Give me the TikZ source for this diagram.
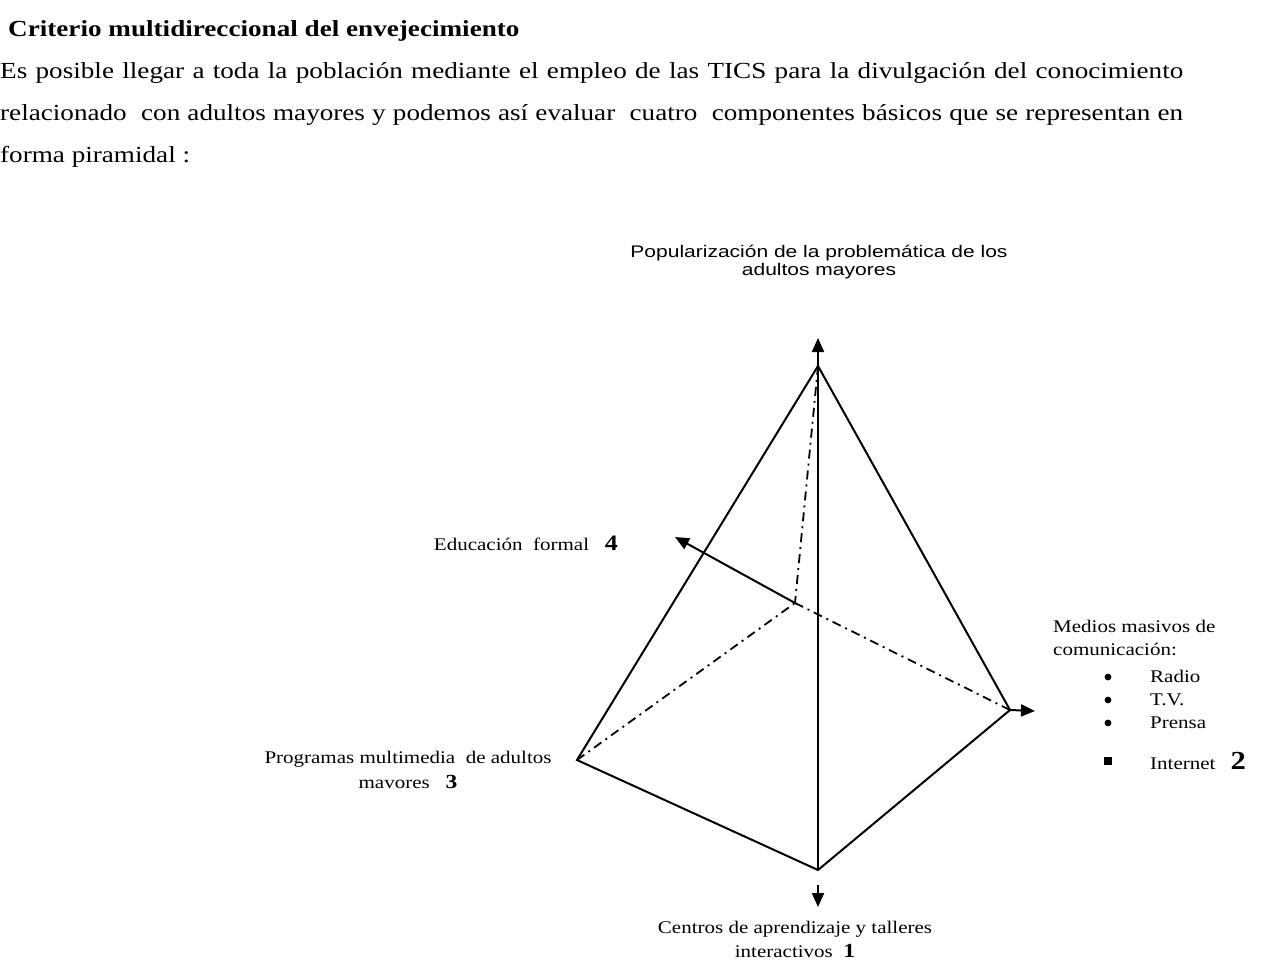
\documentclass[tikz,border=0pt]{standalone}
\usepackage{fontspec}
\setmainfont{Liberation Serif}[FakeStretch=1.18]
\newfontfamily\arialfont{Liberation Sans}[FakeStretch=1.25]
\usetikzlibrary{arrows.meta}

\newcommand{\fsize}[2]{\fontsize{#1}{#2}\selectfont}

\begin{document}
\begin{tikzpicture}[x=1pt,y=-1pt]
\useasboundingbox (0,0) rectangle (1263,966);

% heading and paragraph
\node[anchor=base west,inner sep=0,font=\fsize{23}{27}\bfseries] (title) at (8,37)
    {Criterio multidireccional del envejecimiento};
\node[anchor=base west,inner sep=0,text width=1183pt,align=justify,font=\fsize{23}{42}] (intro) at (0,78)
    {Es posible llegar a toda la población mediante el empleo de las TICS para la divulgación del conocimiento\linebreak
     relacionado\ \ con adultos mayores y podemos así evaluar\ \ cuatro\ \ componentes básicos que se representan en\linebreak
     forma piramidal :};

% corners of the pyramid
\coordinate (top) at (818,366);
\coordinate (left) at (577,760);
\coordinate (bottom) at (818,870);
\coordinate (right) at (1010,710);
\coordinate (back) at (795,603);

% free ends of the arrows
\coordinate (up) at (818,338);
\coordinate (east) at (1035,711);
\coordinate (west) at (675,537);
\coordinate (downstart) at (818,885);
\coordinate (downend) at (818,907);

\begin{scope}[every node/.style={inner sep=0,font=\fsize{17.8}{24}}]
    \node[anchor=base,align=center,font=\arialfont\fsize{16.8}{18}] (popular) at (819,275)
        {Popularización de la problemática de los\\adultos mayores};
    \node[anchor=base east] (educacion) at (618,550)
        {Educación\ \ formal\ \ \ \textbf{\fsize{22}{22}4}};
    \node[anchor=base,align=center,font=\fsize{17.8}{25}] (programas) at (408,788)
        {Programas multimedia\ \ de adultos\\mavores\ \ \ \textbf{\fsize{20}{20}3}};
    \node[anchor=base west,align=left,font=\fsize{17.8}{23}] (medios) at (1053,655)
        {Medios masivos de\\comunicación:};
    \foreach \medio/\yy [count=\i] in {Radio/682,T.V./705,Prensa/728} {
        \node[anchor=base west] (medio\i) at (1150,\yy) {\medio};
        \fill (1108,\yy-5) circle (3.4);
    }
    \node[anchor=base west] (internet) at (1150,769)
        {Internet\hspace{15pt}\textbf{\fsize{26}{26}2}};
    \fill (1104,757) rectangle (1112,765);
    \node[anchor=base,align=center] (centros) at (795,957)
        {Centros de aprendizaje y talleres\\interactivos\ \ \textbf{\fsize{20}{20}1}};
\end{scope}

% visible edges
\begin{scope}[line width=2pt,line join=miter]
    \draw (top) -- (left) -- (bottom) -- (right) -- cycle;
    \draw (top) -- (bottom);
\end{scope}

% hidden edges
\begin{scope}[line width=1.8pt,dash pattern=on 9pt off 5pt on 2pt off 5pt]
    \draw (top) -- (back);
    \draw (left) -- (back);
    \draw (back) -- (right);
\end{scope}

\begin{scope}[>={Triangle[length=14pt,width=12pt]},
              every edge/.style={draw,line width=2pt}]
    \path [->] (top) edge (up);
    \path [->] (right) edge (east);
    \path [->] (back) edge (west);
    \path [->] (downstart) edge (downend);
\end{scope}
\end{tikzpicture}
\end{document}
